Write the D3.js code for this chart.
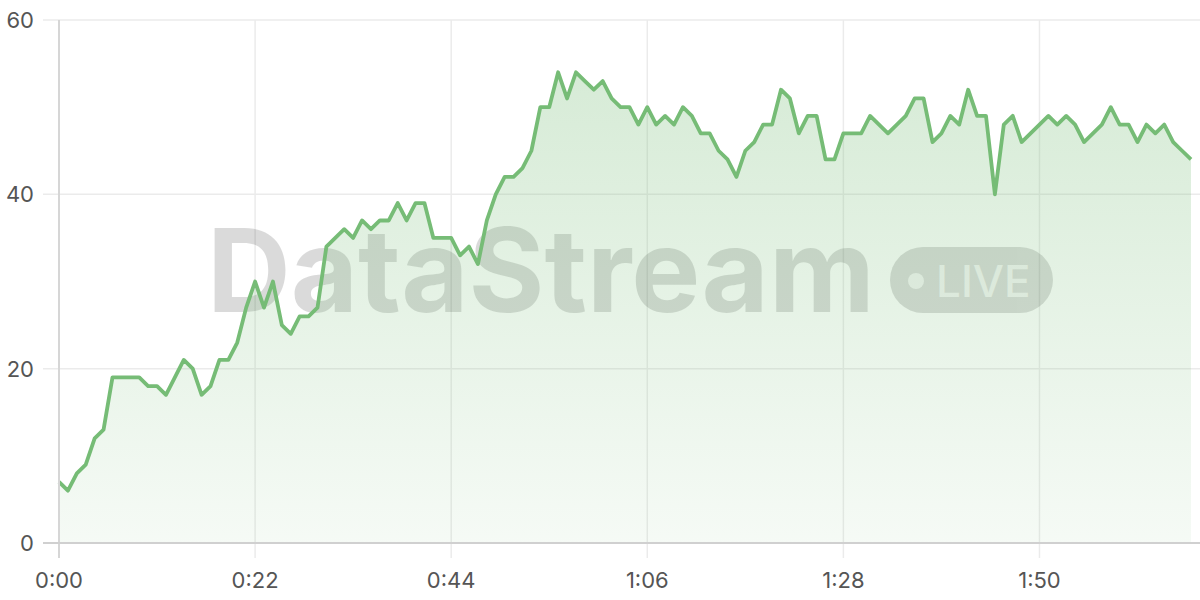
<!DOCTYPE html>
<html>
<head>
<meta charset="utf-8">
<script src="https://cdn.jsdelivr.net/npm/d3@7"></script>
<style>
  html, body { margin: 0; padding: 0; background: #fff; }
  svg { display: block; font-family: Inter, "Noto Sans", sans-serif; }
</style>
</head>
<body>
<svg id="svg" width="1200" height="600"></svg>
<script>
// seconds elapsed, one reading per second
var values = [
  7, 6, 8, 9, 12, 13, 19, 19, 19, 19,
  18, 18, 17, 19, 21, 20, 17, 18, 21, 21,
  23, 27, 30, 27, 30, 25, 24, 26, 26, 27,
  34, 35, 36, 35, 37, 36, 37, 37, 39, 37,
  39, 39, 35, 35, 35, 33, 34, 32, 37, 40,
  42, 42, 43, 45, 50, 50, 54, 51, 54, 53,
  52, 53, 51, 50, 50, 48, 50, 48, 49, 48,
  50, 49, 47, 47, 45, 44, 42, 45, 46, 48,
  48, 52, 51, 47, 49, 49, 44, 44, 47, 47,
  47, 49, 48, 47, 48, 49, 51, 51, 46, 47,
  49, 48, 52, 49, 49, 40, 48, 49, 46, 47,
  48, 49, 48, 49, 48, 46, 47, 48, 50, 48,
  48, 46, 48, 47, 48, 46, 45, 44
];
var xTicks = [0, 22, 44, 66, 88, 110];
var yTicks = [0, 20, 40, 60];

var lineColor = "#76bc76";

var svg = d3.select("#svg");
var plotLeft = 59, plotTop = 20, plotBottom = 543, plotRight = 1200;

var x = d3.scaleLinear().domain([0, values.length - 1]).range([plotLeft, 1191]);
var y = d3.scaleLinear().domain([0, 60]).range([plotBottom, plotTop]);

function fmt(s) {
  var m = Math.floor(s / 60), r = s % 60;
  return m + ":" + (r < 10 ? "0" + r : r);
}

// gradient for the area
var defs = svg.append("defs");
var grad = defs.append("linearGradient")
  .attr("id", "fillGrad")
  .attr("gradientUnits", "userSpaceOnUse")
  .attr("x1", 0).attr("y1", plotTop).attr("x2", 0).attr("y2", plotBottom);
grad.append("stop").attr("offset", "0%").attr("stop-color", lineColor).attr("stop-opacity", 0.32);
grad.append("stop").attr("offset", "100%").attr("stop-color", lineColor).attr("stop-opacity", 0.07);

// grid
var grid = svg.append("g");
grid.selectAll(".hgrid").data(yTicks).enter()
  .append("line")
  .attr("x1", 43).attr("x2", plotRight)
  .attr("y1", function(d){ return y(d); })
  .attr("y2", function(d){ return y(d); })
  .attr("stroke", "#ebebeb").attr("stroke-width", 1.5);
grid.selectAll(".vgrid").data(xTicks).enter()
  .append("line")
  .attr("x1", function(d){ return x(d); })
  .attr("x2", function(d){ return x(d); })
  .attr("y1", plotTop).attr("y2", 558)
  .attr("stroke", "#ebebeb").attr("stroke-width", 1.5);

// watermark
var wm = svg.append("g").attr("opacity", 0.14);
wm.append("text")
  .attr("x", 207).attr("y", 312)
  .attr("font-family", "Inter, 'Liberation Sans', sans-serif")
  .attr("font-weight", 700)
  .attr("font-size", 116)
  .attr("fill", "#000")
  .text("DataStream");
wm.append("rect")
  .attr("x", 890).attr("y", 247).attr("width", 163).attr("height", 66)
  .attr("rx", 33).attr("fill", "#000");
var live = svg.append("g").attr("opacity", 0.7);
live.append("circle").attr("cx", 916).attr("cy", 281).attr("r", 8).attr("fill", "#fff");
live.append("text")
  .attr("x", 936).attr("y", 297)
  .attr("font-family", "Inter, 'Liberation Sans', sans-serif")
  .attr("font-weight", 500)
  .attr("font-size", 44)
  .attr("fill", "#fff")
  .text("LIVE");

// area + line
var area = d3.area()
  .x(function(d, i){ return x(i); })
  .y0(y(0))
  .y1(function(d){ return y(d); });
var line = d3.line()
  .x(function(d, i){ return x(i); })
  .y(function(d){ return y(d); });

svg.append("path").datum(values)
  .attr("d", area)
  .attr("fill", "url(#fillGrad)");
svg.append("path").datum(values)
  .attr("d", line)
  .attr("fill", "none")
  .attr("stroke", lineColor)
  .attr("stroke-width", 3.8)
  .attr("stroke-linejoin", "round");

// axes lines
svg.append("line")
  .attr("x1", plotLeft).attr("x2", plotLeft).attr("y1", plotTop).attr("y2", 558)
  .attr("stroke", "#d6d6d6").attr("stroke-width", 2);
svg.append("line")
  .attr("x1", 43).attr("x2", plotRight).attr("y1", plotBottom).attr("y2", plotBottom)
  .attr("stroke", "#d0d0d0").attr("stroke-width", 2);

// labels
svg.selectAll(".ylab").data(yTicks).enter()
  .append("text")
  .attr("x", 34)
  .attr("y", function(d){ return y(d) + 8; })
  .attr("text-anchor", "end")
  .attr("font-size", 22)
  .attr("fill", "#555")
  .text(function(d){ return d; });
svg.selectAll(".xlab").data(xTicks).enter()
  .append("text")
  .attr("x", function(d){ return x(d); })
  .attr("y", 588)
  .attr("text-anchor", "middle")
  .attr("font-size", 22)
  .attr("fill", "#555")
  .text(function(d){ return fmt(d); });
</script>
</body>
</html>
